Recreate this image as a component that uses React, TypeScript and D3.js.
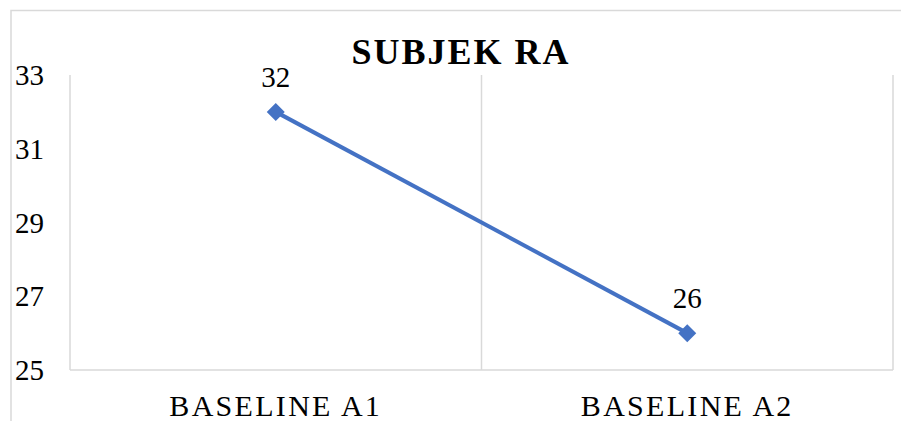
import React from "react";
import * as d3 from "d3";

const categories = ["BASELINE A1", "BASELINE A2"];
const values = [32, 26];
const yTicks = [25, 27, 29, 31, 33];
const title = "SUBJEK RA";

const W = 901;
const H = 421;
const margin = { left: 70, right: 8, top: 75, bottom: 51 };
const FONT = "'Liberation Serif', 'Times New Roman', serif";
const BLUE = "#4472C4";
const GRID = "#d9d9d9";
const R = 9;

export default function App() {
  const x0 = margin.left;
  const x1 = W - margin.right;
  const y = d3.scaleLinear().domain([25, 33]).range([H - margin.bottom, margin.top]);
  const xb = d3.scaleBand().domain(categories).range([x0, x1]).paddingInner(0).paddingOuter(0);
  const cx = (c: string) => (xb(c) as number) + xb.bandwidth() / 2;
  const line = d3
    .line<number>()
    .x((_, i) => cx(categories[i]))
    .y((d) => y(d));
  const diamond = `M0,${-R}L${R},0L0,${R}L${-R},0Z`;
  const bounds = [x0, ...categories.slice(1).map((c) => xb(c) as number), x1];

  return (
    <svg
      width={W}
      height={H}
      style={{ position: "absolute", left: 0, top: 0, background: "#fff" }}
      fontFamily={FONT}
    >
      <rect x={11} y={10.5} width={W + 20} height={H + 20} fill="none" stroke={GRID} strokeWidth={1.5} />
      {bounds.map((b, i) => (
        <line key={i} x1={b} x2={b} y1={y(33)} y2={y(25)} stroke={GRID} strokeWidth={1.5} />
      ))}
      <line x1={x0} x2={x1} y1={y(25)} y2={y(25)} stroke={GRID} strokeWidth={1.5} />
      {yTicks.map((t) => (
        <text key={t} x={15} y={y(t)} dy="0.35em" fontSize={29} fill="#000">
          {t}
        </text>
      ))}
      {categories.map((c) => (
        <text key={c} x={cx(c)} y={416} textAnchor="middle" fontSize={30} letterSpacing={2.3} fill="#000">
          {c}
        </text>
      ))}
      <path d={line(values) || ""} fill="none" stroke={BLUE} strokeWidth={4} />
      {values.map((v, i) => (
        <g key={i}>
          <path d={diamond} transform={`translate(${cx(categories[i])},${y(v)})`} fill={BLUE} />
          <text x={cx(categories[i])} y={y(v) - 25} textAnchor="middle" fontSize={29} fill="#000">
            {v}
          </text>
        </g>
      ))}
      <text x={461} y={64} textAnchor="middle" fontSize={36} fontWeight="bold" letterSpacing={2} fill="#000">
        {title}
      </text>
    </svg>
  );
}
